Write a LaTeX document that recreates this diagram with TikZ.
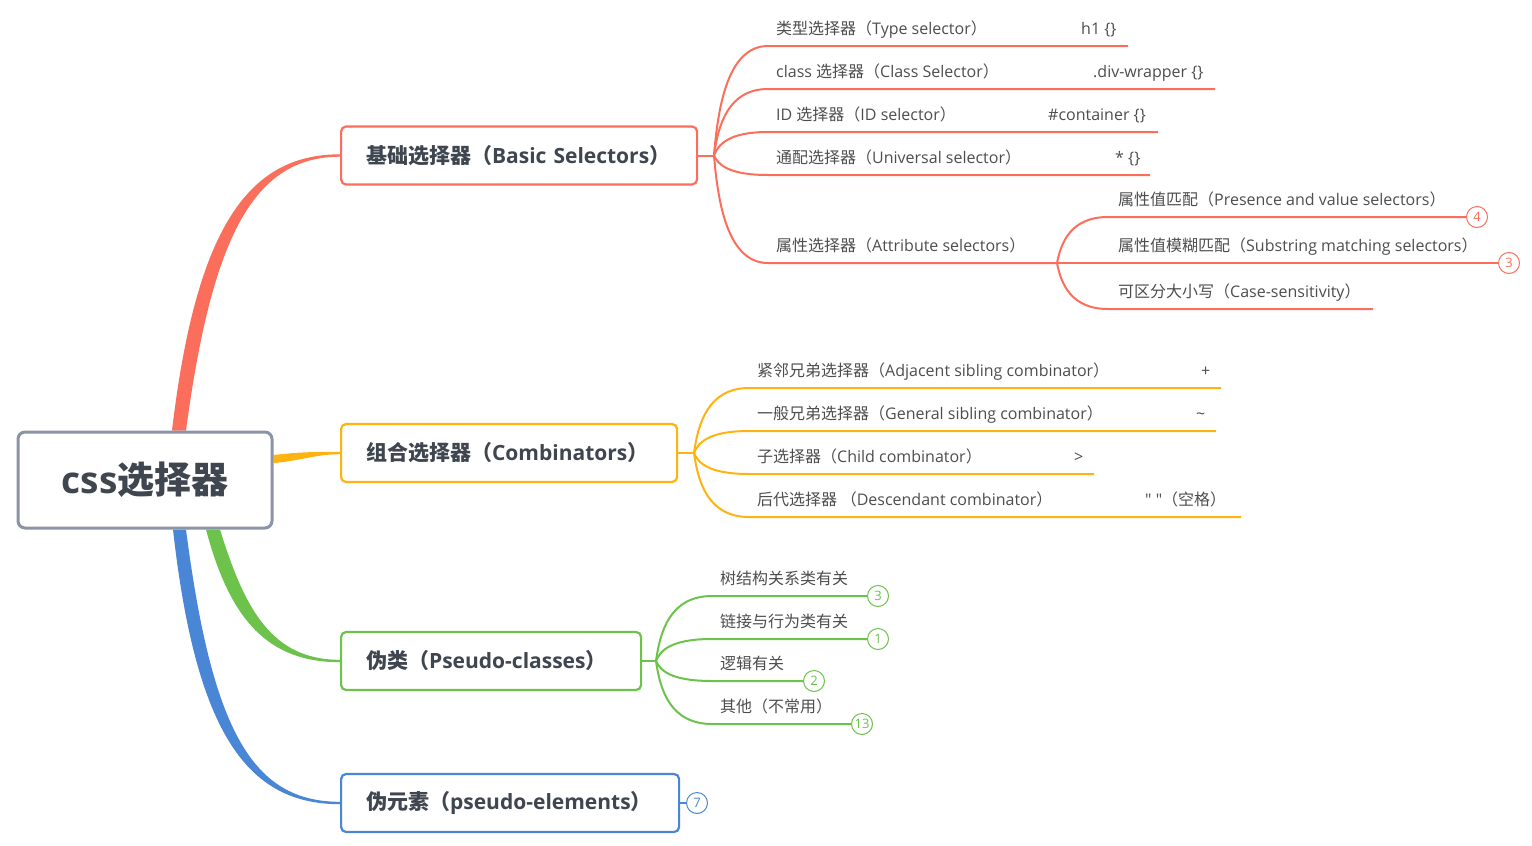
\documentclass[tikz,border=0pt]{standalone}
\usepackage{fontspec}
\setmainfont{Open Sans}
\newfontfamily\plainsans{Open Sans}[Ligatures=TeXOff]
\newfontfamily\cjk{Noto Sans CJK SC}
\newcommand{\zh}[1]{{\cjk #1}}
\usetikzlibrary{calc}
\usetikzlibrary{backgrounds}
\definecolor{selred}{HTML}{FA6E5B}
\definecolor{selorange}{HTML}{FFB310}
\definecolor{selgreen}{HTML}{6CC24A}
\definecolor{selblue}{HTML}{4A86D6}
\definecolor{rootgray}{HTML}{8A94A6}
\definecolor{boxtext}{HTML}{3F4650}
\definecolor{leaftext}{HTML}{4D4D4D}
\tikzset{
	topic/.style = {draw, rounded corners=5pt, line width=2.2pt, fill=white,
		minimum height=58pt, inner xsep=25pt, anchor=west, align=left,
		text=boxtext, font=\fontsize{21}{24}\selectfont\bfseries},% branch box
	leaf/.style = {anchor=base west, inner sep=0pt, text=leaftext,
		font=\fontsize{16}{19}\selectfont},% leaf text
	numtag/.style = {circle, draw=#1, text=#1, fill=white, line width=1pt,
		minimum size=21pt, inner sep=0pt, font=\fontsize{13}{13}\selectfont},% count
	twig/.style = {line width=2pt, draw=#1},% leaf line
	fork/.style args = {#1 to #2}{% curve from a fork point to a leaf line
		insert path = {(#1) .. controls ($(#1)!0.45!(#1 |- #2)+(4,0)$)
			and ($(#1 |- #2)+(14,0)$) .. (#2)}}
}

\begin{document}
\begin{tikzpicture}[x=1pt, y=-1pt]
	\useasboundingbox (0,0) rectangle (1532,846);
	% root and main branches
	\node [draw=rootgray, line width=3pt, rounded corners=7pt, fill=white,
		minimum width=254pt, minimum height=96pt, text=boxtext,
		font=\fontsize{37}{40}\selectfont\bfseries] (root) at (145,480) {css\zh{选择器}};
	\node [topic, draw=selred, text width=306pt] (basic) at (340,155.5)
		{\zh{基础选择器（}Basic Selectors\zh{）}};
	\node [topic, draw=selorange, text width=286pt] (comb) at (340,453)
		{\zh{组合选择器（}Combinators\zh{）}};
	\node [topic, draw=selgreen, text width=250pt] (pcls) at (340,661)
		{\zh{伪类（}Pseudo-classes\zh{）}};
	\node [topic, draw=selblue, text width=288pt] (pel) at (340,803)
		{\zh{伪元素（}pseudo-elements\zh{）}};
	\begin{scope}[on background layer]
		\fill [selred] ($(root.north)+(27,0)$) .. controls (196,228) and (248,154.3) .. ($(basic.west)+(0,-1.2)$)
			-- ($(basic.west)+(0,1.2)$) .. controls (254,156.7) and (212,236) .. ($(root.north)+(41,0)$) -- cycle;
		\fill [selorange] ($(root.east)+(0,-25)$) .. controls (300,452) and (315,451.8) .. ($(comb.west)+(0,-1.2)$)
			-- ($(comb.west)+(0,1.2)$) .. controls (315,454.2) and (300,461) .. ($(root.east)+(0,-17)$) -- cycle;
		\fill [selgreen] ($(root.south)+(61,0)$) .. controls (230,620) and (268,662.2) .. ($(pcls.west)+(0,1.2)$)
			-- ($(pcls.west)+(0,-1.2)$) .. controls (272,659.8) and (245,610) .. ($(root.south)+(75,0)$) -- cycle;
		\fill [selblue] ($(root.south)+(28,0)$) .. controls (196,735) and (248,804.2) .. ($(pel.west)+(0,1.2)$)
			-- ($(pel.west)+(0,-1.2)$) .. controls (252,801.8) and (212,730) .. ($(root.south)+(41,0)$) -- cycle;
	\end{scope}

	% basic selectors
	\coordinate (bb) at (714,155.5);
	\coordinate (uType) at (768,46);   \coordinate (eType) at (1128,46);
	\coordinate (uClass) at (768,89);  \coordinate (eClass) at (1215,89);
	\coordinate (uId) at (768,132);    \coordinate (eId) at (1158,132);
	\coordinate (uUniv) at (768,175);  \coordinate (eUniv) at (1150,175);
	\coordinate (uAttr) at (768,263);  \coordinate (ba) at (1057,263);
	\draw [twig=selred] (basic.east) -- (bb);
	\draw [twig=selred, fork=bb to uType] -- (eType);
	\draw [twig=selred, fork=bb to uClass] -- (eClass);
	\draw [twig=selred, fork=bb to uId] -- (eId);
	\draw [twig=selred, fork=bb to uUniv] -- (eUniv);
	\draw [twig=selred, fork=bb to uAttr] -- (ba);
	\node [leaf] (tType) at (776,34.5) {\zh{类型选择器（}Type selector\zh{）}};
	\node [leaf] (vType) at (1081,34.5) {h1 \{\}};
	\node [leaf] (tClass) at (776,77.5) {class \zh{选择器（}Class Selector\zh{）}};
	\node [leaf] (vClass) at (1093,77.5) {.div-wrapper \{\}};
	\node [leaf] (tId) at (776,120.5) {ID \zh{选择器（}ID selector\zh{）}};
	\node [leaf] (vId) at (1048,120.5) {\#container \{\}};
	\node [leaf] (tUniv) at (776,163.5) {\zh{通配选择器（}Universal selector\zh{）}};
	\node [leaf] (vUniv) at (1115,163.5) {* \{\}};
	\node [leaf] (tAttr) at (776,251.5) {\zh{属性选择器（}Attribute selectors\zh{）}};

	% attribute selectors
	\coordinate (uPres) at (1108,217);
	\coordinate (uCase) at (1108,309); \coordinate (eCase) at (1373,309);
	\node [numtag=selred] (nPres) at (1477,217) {4};
	\node [numtag=selred] (nSub) at (1509,263) {3};
	\draw [twig=selred, fork=ba to uPres] -- (nPres.west);
	\draw [twig=selred] (ba) -- (nSub.west);
	\draw [twig=selred, fork=ba to uCase] -- (eCase);
	\node [leaf] (tPres) at (1118,205.5) {\zh{属性值匹配（}Presence and value selectors\zh{）}};
	\node [leaf] (tSub) at (1118,251.5) {\zh{属性值模糊匹配（}Substring matching selectors\zh{）}};
	\node [leaf] (tCase) at (1118,297.5) {\zh{可区分大小写（}Case-sensitivity\zh{）}};

	% combinators
	\coordinate (bc) at (694,453);
	\coordinate (uAdj) at (749,388);   \coordinate (eAdj) at (1221,388);
	\coordinate (uGen) at (749,431);   \coordinate (eGen) at (1216,431);
	\coordinate (uChild) at (749,474); \coordinate (eChild) at (1094,474);
	\coordinate (uDesc) at (749,517);  \coordinate (eDesc) at (1241,517);
	\draw [twig=selorange] (comb.east) -- (bc);
	\draw [twig=selorange, fork=bc to uAdj] -- (eAdj);
	\draw [twig=selorange, fork=bc to uGen] -- (eGen);
	\draw [twig=selorange, fork=bc to uChild] -- (eChild);
	\draw [twig=selorange, fork=bc to uDesc] -- (eDesc);
	\node [leaf] (tAdj) at (757,376.5) {\zh{紧邻兄弟选择器（}Adjacent sibling combinator\zh{）}};
	\node [leaf] (vAdj) at (1201,376.5) {+};
	\node [leaf] (tGen) at (757,419.5) {\zh{一般兄弟选择器（}General sibling combinator\zh{）}};
	\node [leaf] (vGen) at (1196,419.5) {\textasciitilde};
	\node [leaf] (tChild) at (757,462.5) {\zh{子选择器（}Child combinator\zh{）}};
	\node [leaf] (vChild) at (1074,462.5) {>};
	\node [leaf] (tDesc) at (757,505.5) {\zh{后代选择器 （}Descendant combinator\zh{）}};
	\node [leaf] (vDesc) at (1145,505.5) {{\plainsans " "}\zh{（空格）}};

	% pseudo-classes
	\coordinate (bp) at (656,661);
	\coordinate (uTree) at (712,596);
	\coordinate (uLink) at (712,639);
	\coordinate (uLogic) at (712,681);
	\coordinate (uOther) at (712,724);
	\node [numtag=selgreen] (nTree) at (878,596) {3};
	\node [numtag=selgreen] (nLink) at (878,639) {1};
	\node [numtag=selgreen] (nLogic) at (814,681) {2};
	\node [numtag=selgreen] (nOther) at (862,724) {13};
	\draw [twig=selgreen] (pcls.east) -- (bp);
	\draw [twig=selgreen, fork=bp to uTree] -- (nTree.west);
	\draw [twig=selgreen, fork=bp to uLink] -- (nLink.west);
	\draw [twig=selgreen, fork=bp to uLogic] -- (nLogic.west);
	\draw [twig=selgreen, fork=bp to uOther] -- (nOther.west);
	\node [leaf] (tTree) at (720,584.5) {\zh{树结构关系类有关}};
	\node [leaf] (tLink) at (720,627.5) {\zh{链接与行为类有关}};
	\node [leaf] (tLogic) at (720,669.5) {\zh{逻辑有关}};
	\node [leaf] (tOther) at (720,712.5) {\zh{其他（不常用）}};

	% pseudo-elements
	\node [numtag=selblue] (nPel) at (697,803) {7};
	\draw [twig=selblue] (pel.east) -- (nPel.west);
\end{tikzpicture}
\end{document}
